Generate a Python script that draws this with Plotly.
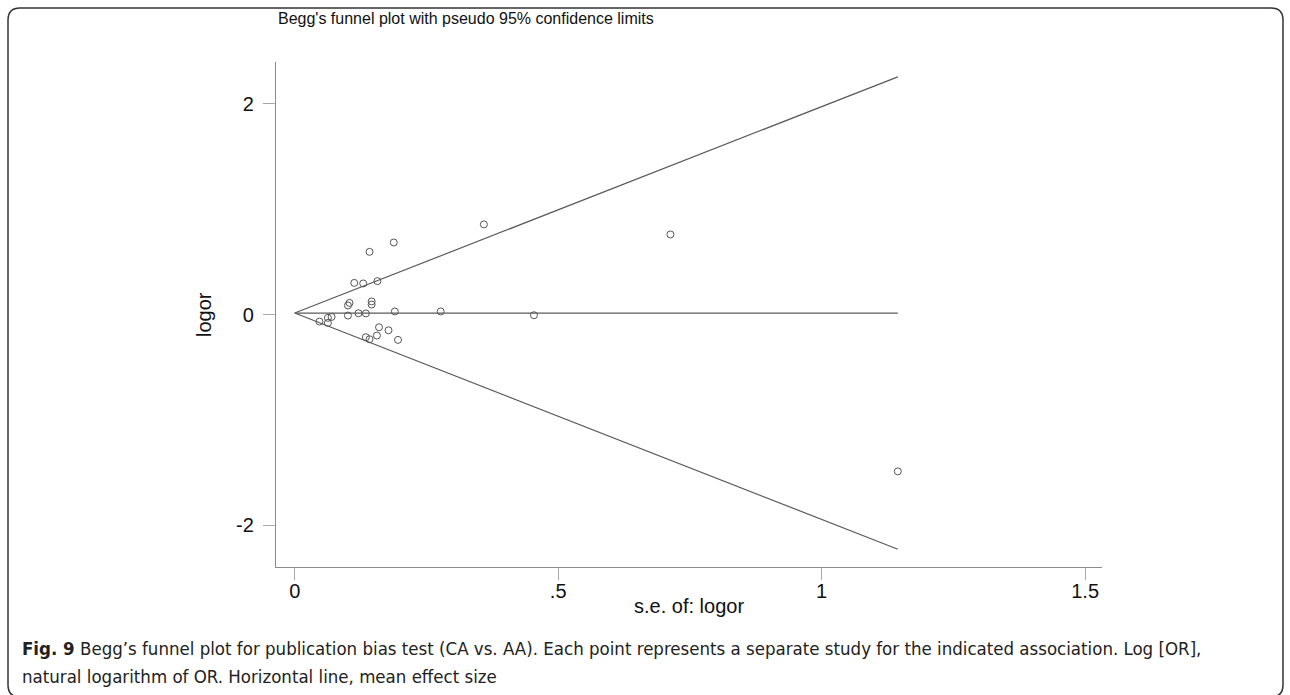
import plotly.graph_objects as go

# ---- data ----
se_logor = [0.188, 0.142, 0.113, 0.130, 0.157, 0.104, 0.101, 0.146, 0.146,
            0.101, 0.121, 0.135, 0.190, 0.277, 0.047, 0.063, 0.070, 0.063,
            0.160, 0.178, 0.156, 0.135, 0.142, 0.196, 0.454, 0.359, 0.713,
            1.1445]
logor = [0.684, 0.595, 0.300, 0.295, 0.317, 0.110, 0.086, 0.124, 0.095,
         -0.010, 0.012, 0.010, 0.029, 0.029, -0.067, -0.032, -0.023, -0.080,
         -0.121, -0.150, -0.200, -0.216, -0.235, -0.241, -0.007, 0.856, 0.760,
         -1.49]
mean_logor = 0.014
z95 = 1.96
x_tickvals = [0, 0.5, 1, 1.5]
x_ticktext = ["0", ".5", "1", "1.5"]
y_tickvals = [-2, 0, 2]
y_ticktext = ["-2", "0", "2"]

se_max = max(se_logor)
funnel_x = [se_max, 0, se_max]
funnel_y = [mean_logor + z95 * se_max, mean_logor, mean_logor - z95 * se_max]

# ---- layout geometry ----
FW, FH = 1290, 695
L, R, T, B = 276, 188, 62, 128
PW, PH = FW - L - R, FH - T - B


def xp(px):
    return (px - L) / PW


def yp(py):
    return (FH - B - py) / PH


FONT = "Liberation Sans, Arial, Helvetica, sans-serif"
CAP_FONT = "Liberation Sans Narrow, DejaVu Sans Condensed, Arial Narrow, sans-serif"
line_col = "#5a5a5a"

fig = go.Figure()
fig.add_trace(go.Scatter(x=funnel_x, y=funnel_y, mode="lines",
                         line=dict(color=line_col, width=1.2),
                         hoverinfo="skip", showlegend=False))
fig.add_trace(go.Scatter(x=[0, se_max], y=[mean_logor, mean_logor], mode="lines",
                         line=dict(color=line_col, width=1.2),
                         hoverinfo="skip", showlegend=False))
fig.add_trace(go.Scatter(x=se_logor, y=logor, mode="markers",
                         marker=dict(symbol="circle-open", size=7,
                                     color="#555555", line=dict(width=1)),
                         showlegend=False))

axis_common = dict(showgrid=False, zeroline=False, showline=True,
                   linecolor="#8c8c8c", linewidth=1.3, ticks="outside",
                   ticklen=12, tickcolor="#a8a8a8", tickwidth=1.3,
                   tickfont=dict(family=FONT, size=20, color="#111"),
                   mirror=False)

fig.update_xaxes(range=[-0.0355, 1.532], tickvals=x_tickvals, ticktext=x_ticktext,
                 ticklabelstandoff=-6, **axis_common)
fig.update_yaxes(range=[-2.398, 2.398], tickvals=y_tickvals, ticktext=y_ticktext,
                 tickangle=0, ticklabelstandoff=5, **axis_common)

annotations = [
    dict(text="Begg's funnel plot with pseudo 95% confidence limits",
         x=xp(276), y=yp(19), xref="paper", yref="paper",
         xanchor="left", yanchor="middle", showarrow=False,
         font=dict(family=FONT, size=16, color="#111")),
    dict(text="s.e. of: logor",
         x=xp(689), y=yp(606), xref="paper", yref="paper",
         xanchor="center", yanchor="middle", showarrow=False,
         font=dict(family=FONT, size=20, color="#111")),
    dict(text="logor", textangle=-90,
         x=xp(204), y=yp(315), xref="paper", yref="paper",
         xanchor="center", yanchor="middle", showarrow=False,
         font=dict(family=FONT, size=20, color="#111")),
    dict(text="<b>Fig. 9</b> Begg\u2019s funnel plot for publication bias test (CA vs. AA). "
              "Each point represents a separate study for the indicated association. Log [OR],",
         x=xp(20), y=yp(648), xref="paper", yref="paper",
         xanchor="left", yanchor="middle", showarrow=False,
         font=dict(family=CAP_FONT, size=18.5, color="#222")),
    dict(text="natural logarithm of OR. Horizontal line, mean effect size",
         x=xp(20), y=yp(676), xref="paper", yref="paper",
         xanchor="left", yanchor="middle", showarrow=False,
         font=dict(family=CAP_FONT, size=18.5, color="#222")),
]

# rounded frame around the whole figure
x0, x1, y0, y1, r = xp(8), xp(1283), yp(8), yp(697), 12
rx, ry = r / PW, r / PH
path = (f"M {x0+rx},{y0} L {x1-rx},{y0} Q {x1},{y0} {x1},{y0-ry} "
        f"L {x1},{y1+ry} Q {x1},{y1} {x1-rx},{y1} L {x0+rx},{y1} "
        f"Q {x0},{y1} {x0},{y1+ry} L {x0},{y0-ry} Q {x0},{y0} {x0+rx},{y0} Z")

fig.update_layout(
    width=FW, height=FH,
    margin=dict(l=L, r=R, t=T, b=B),
    paper_bgcolor="white", plot_bgcolor="white",
    font=dict(family=FONT),
    annotations=annotations,
    shapes=[dict(type="path", path=path, xref="paper", yref="paper",
                 line=dict(color="#333333", width=1.5), layer="above")],
)

fig.write_html("out.html", config={"displayModeBar": False},
               post_script="document.body.style.margin='0px';document.body.style.overflow='hidden';")
